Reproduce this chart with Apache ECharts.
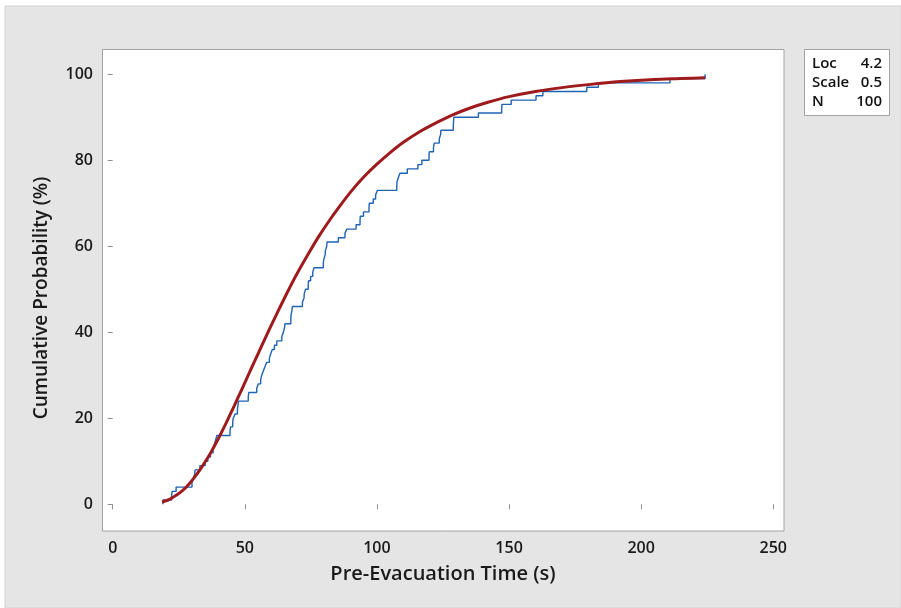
<!DOCTYPE html>
<html><head><meta charset="utf-8">
<script src="https://cdn.jsdelivr.net/npm/echarts@6/dist/echarts.min.js"></script>
<style>html,body{margin:0;padding:0;background:#fff}#chart{width:901px;height:608px}</style>
</head><body><div id="chart"></div>
<script>
// ---- data ----
const xTicks = [0, 50, 100, 150, 200, 250];
const yTicks = [0, 20, 40, 60, 80, 100];
const xTitle = 'Pre-Evacuation Time (s)';
const yTitle = 'Cumulative Probability (%)';

// sorted observed pre-evacuation times (empirical CDF step positions)
const preEvacTimes = [
  19.0, 22.3, 22.5, 24.0, 30.0, 30.5, 31.0, 31.2, 33.0, 35.0,
  36.0, 37.0, 38.0, 38.5, 39.0, 39.4, 44.4, 44.6, 45.4, 45.6,
  46.3, 47.2, 47.4, 47.6, 51.3, 51.5, 54.5, 55.1, 56.0, 56.4,
  57.0, 57.6, 58.3, 59.3, 59.8, 60.4, 61.2, 62.1, 64.0, 64.6,
  65.0, 65.2, 67.4, 67.5, 67.8, 68.0, 71.8, 72.4, 72.5, 73.0,
  74.0, 74.1, 74.9, 75.7, 76.2, 79.7, 79.9, 80.4, 80.5, 81.0,
  81.1, 85.4, 87.9, 88.6, 92.1, 93.6, 93.7, 94.9, 97.0, 97.1,
  98.6, 99.5, 100.2, 107.5, 107.6, 108.1, 108.7, 111.5, 115.5, 117.0,
  119.7, 119.8, 121.4, 121.7, 123.6, 124.1, 124.2, 128.9, 129.0, 129.1,
  138.4, 147.2, 147.3, 150.8, 160.2, 162.8, 179.4, 183.8, 210.9, 224.2
];
const cumulativePercent = [
  1, 2, 3, 4, 5, 6, 7, 8, 9, 10,
  11, 12, 13, 14, 15, 16, 17, 18, 19, 20,
  21, 22, 23, 24, 25, 26, 27, 28, 29, 30,
  31, 32, 33, 34, 35, 36, 37, 38, 39, 40,
  41, 42, 43, 44, 45, 46, 47, 48, 49, 50,
  51, 52, 53, 54, 55, 56, 57, 58, 59, 60,
  61, 62, 63, 64, 65, 66, 67, 68, 69, 70,
  71, 72, 73, 74, 75, 76, 77, 78, 79, 80,
  81, 82, 83, 84, 85, 86, 87, 88, 89, 90,
  91, 92, 93, 94, 95, 96, 97, 98, 99, 100
];

// fitted lognormal curve (Loc 4.2, Scale 0.5)
const fitTimes   = [18.7, 21, 23, 25, 27, 29, 31, 33, 35, 37, 40, 43, 46, 49, 52, 55, 58, 61, 64, 67, 70, 74, 78, 82, 86, 90, 95, 100, 105, 110, 116, 122, 128, 135, 142, 150, 160, 170, 180, 192, 205, 215, 224.2];
const fitPercent = [0.55, 1.0, 1.7, 2.5, 3.5, 4.8, 6.3, 8.0, 9.9, 11.9, 15.3, 19.0, 22.9, 26.9, 31.0, 35.0, 39.0, 42.9, 46.7, 50.4, 53.9, 58.2, 62.3, 66.0, 69.4, 72.6, 76.1, 79.1, 81.8, 84.2, 86.6, 88.6, 90.4, 92.1, 93.5, 94.8, 96.0, 96.9, 97.6, 98.3, 98.8, 99.0, 99.2];

const statsLabels = ['Loc', 'Scale', 'N'];
const statsValues = ['4.2', '0.5', '100'];

// ---- build ----
const stepData = [[preEvacTimes[0], 0]];
preEvacTimes.forEach((t, i) => stepData.push([t, cumulativePercent[i]]));
const fitData = fitTimes.map((t, i) => [t, fitPercent[i]]);

const FONT = '"Open Sans","Noto Sans",sans-serif';
const chart = echarts.init(document.getElementById('chart'), null, {renderer: 'canvas'});

const graphics = [
  {type: 'rect', z: -20, shape: {x: 5, y: 6, width: 896, height: 602}, style: {fill: '#e5e5e5', stroke: '#d2d2d2', lineWidth: 1}},
  {type: 'rect', z: -10, shape: {x: 102.5, y: 49.5, width: 681.5, height: 481.5}, style: {fill: '#ffffff', stroke: '#a3a3a3', lineWidth: 1}},
  {type: 'rect', z: -10, shape: {x: 804.5, y: 49.5, width: 85, height: 66}, style: {fill: '#ffffff', stroke: '#a3a3a3', lineWidth: 1}},
  {type: 'text', x: 443, y: 574, style: {text: xTitle, fill: '#1a1a1a', font: '600 20px ' + FONT, textAlign: 'center', textVerticalAlign: 'middle', align: 'center', verticalAlign: 'middle'}},
  {type: 'text', x: 42, y: 298, rotation: Math.PI / 2, style: {text: yTitle, fill: '#1a1a1a', font: '600 19px ' + FONT, textAlign: 'center', textVerticalAlign: 'middle', align: 'center', verticalAlign: 'middle'}}
];
const rowY = [64, 83, 102];
statsLabels.forEach((lab, i) => {
  graphics.push({type: 'text', x: 812, y: rowY[i], style: {text: lab, fill: '#111', font: '600 15px ' + FONT, textAlign: 'left', textVerticalAlign: 'middle', align: 'left', verticalAlign: 'middle'}});
  graphics.push({type: 'text', x: 882, y: rowY[i], style: {text: statsValues[i], fill: '#111', font: '600 15px ' + FONT, textAlign: 'right', textVerticalAlign: 'middle', align: 'right', verticalAlign: 'middle'}});
});

chart.setOption({
  animation: false,
  backgroundColor: '#ffffff',
  graphic: {elements: graphics},
  grid: {left: 112.7, right: 127.7, top: 74.3, bottom: 103.7, containLabel: false},
  xAxis: {
    type: 'value', min: xTicks[0], max: xTicks[xTicks.length - 1], interval: 50,
    offset: 26.7,
    axisLine: {show: false},
    axisTick: {show: true, inside: false, length: 5, lineStyle: {color: '#8f8f8f'}},
    axisLabel: {fontSize: 16, fontWeight: 600, color: '#1a1a1a', fontFamily: FONT, margin: 9},
    splitLine: {show: false}
  },
  yAxis: {
    type: 'value', min: yTicks[0], max: yTicks[yTicks.length - 1], interval: 20,
    offset: 10.7,
    axisLine: {show: false},
    axisTick: {show: true, inside: false, length: 5, lineStyle: {color: '#8f8f8f'}},
    axisLabel: {fontSize: 16, fontWeight: 600, color: '#1a1a1a', fontFamily: FONT, margin: 9},
    splitLine: {show: false}
  },
  series: [
    {type: 'line', name: 'Empirical', data: stepData, step: 'end', symbol: 'none', clip: false,
     lineStyle: {color: '#1f63b5', width: 1.4}, z: 3},
    {type: 'line', name: 'Fit', data: fitData, smooth: 0.2, symbol: 'none', clip: false,
     lineStyle: {color: '#9e1a1c', width: 3}, z: 4}
  ]
});
</script></body></html>
